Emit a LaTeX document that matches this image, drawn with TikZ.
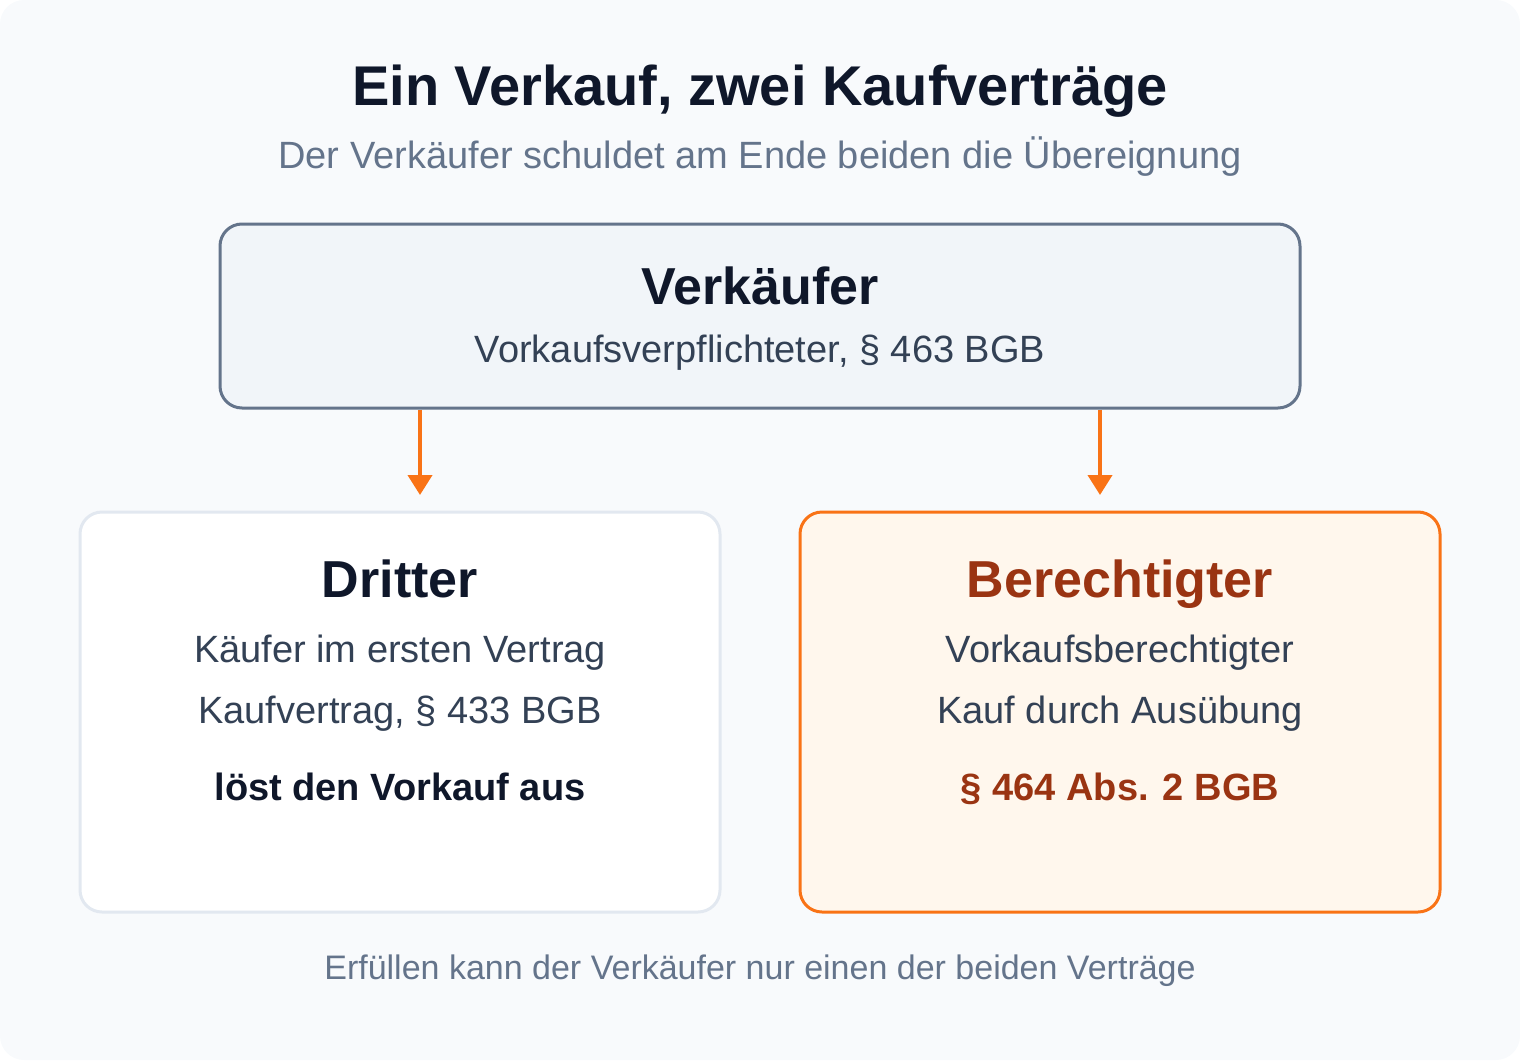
\documentclass[tikz,border=0pt]{standalone}
\usepackage{fontspec}
\setmainfont{Liberation Sans}
\usetikzlibrary{positioning,arrows.meta}

\definecolor{bgpage}{HTML}{F8FAFC}
\definecolor{inkdark}{HTML}{0F172A}
\definecolor{inkbody}{HTML}{334155}
\definecolor{inkgrey}{HTML}{64748B}
\definecolor{slatefill}{HTML}{F1F5F9}
\definecolor{lightline}{HTML}{E2E8F0}
\definecolor{orangeline}{HTML}{F97316}
\definecolor{orangefill}{HTML}{FFF7ED}
\definecolor{rust}{HTML}{9A3412}

\begin{document}
\begin{tikzpicture}[
  x=1pt, y=-1pt,
  node distance=60pt,
  box/.style={draw, line width=3pt, rounded corners=22pt, inner sep=0pt},
  txt/.style={inner sep=0pt, text height=0pt, text depth=0pt},
  head/.style={txt, font=\fontsize{52}{56}\selectfont\bfseries, text=inkdark},
  body/.style={txt, font=\fontsize{38}{42}\selectfont, text=inkbody},
  note/.style={txt, font=\fontsize{38}{42}\selectfont\bfseries, text=inkdark},
  link/.style={draw=orangeline, line width=4pt, -{Triangle[width=24pt,length=20pt]}}
]
% Page background
\fill[bgpage, rounded corners=24pt] (0,0) rectangle (1520,1060);
\useasboundingbox (0,0) rectangle (1520,1060);

% Title and subtitle
\node[txt, font=\fontsize{56}{60}\selectfont\bfseries, text=inkdark] (title) at (760,105) {Ein Verkauf, zwei Kaufverträge};
\node[txt, font=\fontsize{38}{42}\selectfont, text=inkgrey, below of=title, node distance=63pt] (subtitle) {Der Verkäufer schuldet am Ende beiden die Übereignung};

% Seller box
\node[box, draw=inkgrey, fill=slatefill, minimum width=1080pt, minimum height=184pt] (seller) at (760,316) {};
\node[head, above of=seller, node distance=12pt] (s_head) {Verkäufer};
\node[body, below of=s_head, node distance=58pt] (s1) {Vorkaufsverpflichteter, § 463 BGB};

% Third party box
\node[box, draw=lightline, fill=white, minimum width=640pt, minimum height=400pt] (third) at (400,712) {};
\node[head, above of=third, node distance=115pt] (t_head) {Dritter};
\node[body, below of=t_head, node distance=65pt] (t1) {Käufer im ersten Vertrag};
\node[body, below of=t1, node distance=61pt] (t2) {Kaufvertrag, § 433 BGB};
\node[note, below of=t2, node distance=77pt] (t3) {löst den Vorkauf aus};

% Entitled box
\node[box, draw=orangeline, fill=orangefill, minimum width=640pt, minimum height=400pt] (entitled) at (1120,712) {};
\node[head, text=rust, above of=entitled, node distance=115pt] (e_head) {Berechtigter};
\node[body, below of=e_head, node distance=65pt] (e1) {Vorkaufsberechtigter};
\node[body, below of=e1, node distance=61pt] (e2) {Kauf durch Ausübung};
\node[note, text=rust, below of=e2, node distance=77pt] (e3) {§ 464 Abs. 2 BGB};

% Footer
\node[txt, font=\fontsize{34}{38}\selectfont, text=inkgrey] (footer) at (760,979) {Erfüllen kann der Verkäufer nur einen der beiden Verträge};

% Arrows
\coordinate (to_third) at (420,495);
\coordinate (to_entitled) at (1100,495);
\draw[link] (seller.south -| to_third) -- (to_third);
\draw[link] (seller.south -| to_entitled) -- (to_entitled);
\end{tikzpicture}
\end{document}
